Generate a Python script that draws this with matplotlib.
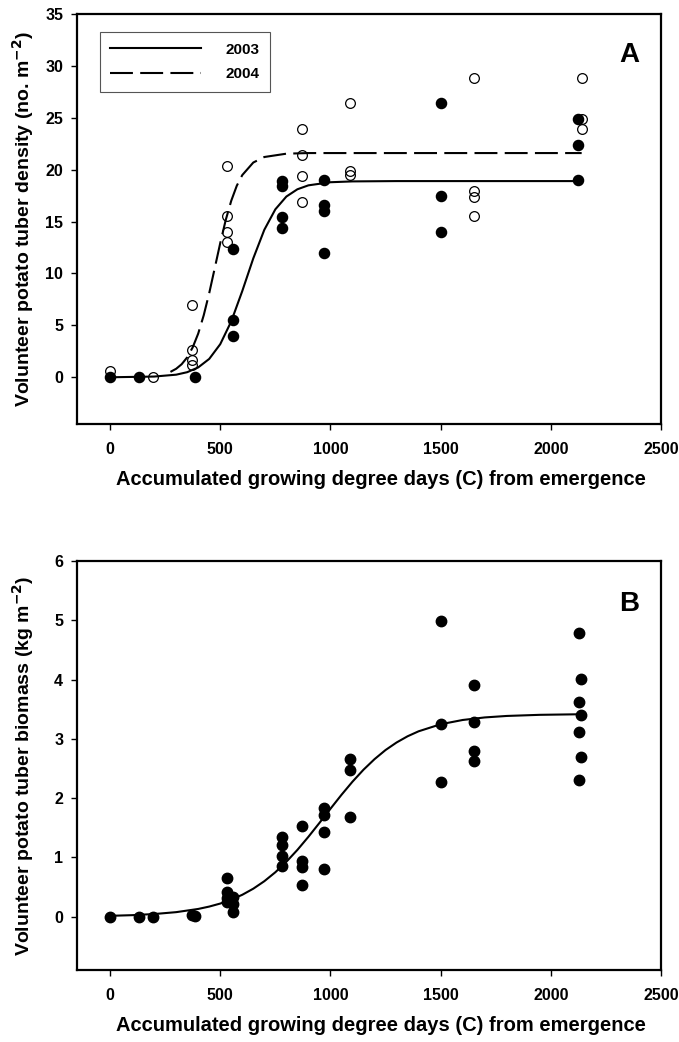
import matplotlib
matplotlib.use("Agg")
import matplotlib.pyplot as plt

plt.rcParams['font.family'] = ['Liberation Sans', 'DejaVu Sans']
plt.rcParams['font.weight'] = 'bold'

# Panel A: tuber density, 2003 (filled) and 2004 (open)
gdd_03 = [0, 130, 385, 560, 560, 560, 780, 780, 780, 780, 973, 973, 973, 973,
          1500, 1500, 1500, 2125, 2125, 2125]
dens_03 = [0, 0, 0, 12.4, 5.5, 4.0, 18.9, 18.4, 15.4, 14.4, 19.0, 16.6, 16.0, 12.0,
           26.4, 17.5, 14.0, 24.9, 22.4, 19.0]

gdd_04 = [0, 194, 373, 373, 373, 373, 532, 532, 532, 532, 871, 871, 871, 871,
          1089, 1089, 1089, 1650, 1650, 1650, 1650, 2140, 2140, 2140]
dens_04 = [0.6, 0.0, 7.0, 2.6, 1.7, 1.2, 20.4, 15.5, 14.0, 13.0, 23.9, 21.4, 19.4, 16.9,
           26.4, 19.9, 19.5, 28.8, 17.9, 17.4, 15.5, 28.8, 24.9, 23.9]

# fitted curves
fit03_x = [0, 200, 300, 350, 400, 450, 500, 550, 600, 650, 700, 750, 800, 850,
           900, 1000, 1100, 1300, 2130]
fit03_y = [0.0, 0.07, 0.25, 0.49, 0.95, 1.77, 3.19, 5.39, 8.31, 11.46, 14.21, 16.18,
           17.41, 18.11, 18.49, 18.79, 18.87, 18.9, 18.9]

fit04_x = [274, 300, 325, 350, 375, 400, 425, 450, 475, 500, 525, 550, 575, 600,
           650, 700, 800, 900, 2140]
fit04_y = [0.52, 0.82, 1.26, 1.92, 2.88, 4.21, 5.97, 8.11, 10.51, 12.93, 15.16, 17.01,
           18.45, 19.48, 20.69, 21.22, 21.54, 21.6, 21.6]

# Panel B: tuber biomass
gdd_b = [0, 130, 194, 373, 385, 532, 532, 532, 532, 560, 560, 560,
         780, 780, 780, 780, 871, 871, 871, 871, 973, 973, 973, 973,
         1089, 1089, 1089, 1500, 1500, 1500, 1650, 1650, 1650, 1650,
         2126, 2138, 2126, 2138, 2126, 2138, 2126]
bio_b = [0, 0, 0, 0.03, 0.01, 0.66, 0.42, 0.32, 0.25, 0.33, 0.22, 0.08,
         1.34, 1.21, 1.02, 0.85, 1.53, 0.94, 0.84, 0.53, 1.83, 1.71, 1.43, 0.81,
         2.66, 2.48, 1.68, 4.99, 3.25, 2.27, 3.91, 3.29, 2.80, 2.62,
         4.79, 4.01, 3.62, 3.41, 3.12, 2.69, 2.31]

fitb_x = [0, 100, 200, 300, 400, 450, 500, 550, 600, 650, 700, 750, 800, 850, 900,
          950, 1000, 1050, 1100, 1150, 1200, 1250, 1300, 1350, 1400, 1500, 1600,
          1700, 1800, 1950, 2140]
fitb_y = [0.014, 0.025, 0.044, 0.076, 0.13, 0.17, 0.221, 0.287, 0.369, 0.472, 0.598,
          0.749, 0.926, 1.126, 1.347, 1.581, 1.82, 2.055, 2.277, 2.479, 2.657, 2.811,
          2.938, 3.043, 3.127, 3.246, 3.318, 3.361, 3.386, 3.405, 3.415]

xticks = [0, 500, 1000, 1500, 2000, 2500]
xlab = "Accumulated growing degree days (C) from emergence"

fig = plt.figure(figsize=(6.79, 10.42), dpi=100)
axA = fig.add_axes([0.1134, 0.5931, 0.8601, 0.3935])
axB = fig.add_axes([0.1134, 0.0691, 0.8601, 0.3925])


def style(ax, yticks):
    for s in ax.spines.values():
        s.set_linewidth(1.6)
    ax.set_xlim(-150, 2500)
    ax.set_xticks(xticks)
    ax.set_yticks(yticks)
    ax.tick_params(direction='out', length=4, width=1, pad=6, labelsize=11.5)
    ax.tick_params(axis='x', pad=9)
    for t in ax.get_xticklabels() + ax.get_yticklabels():
        t.set_fontweight('bold')
    ax.set_xlabel(xlab, fontsize=14.5, fontweight='bold')
    ax.xaxis.set_label_coords(0.52, -0.112)
    ax.yaxis.set_label_coords(-0.07, 0.5)


# Panel A
axA.plot(fit03_x, fit03_y, color='black', lw=1.5, label='2003', zorder=2)
axA.plot(fit04_x, fit04_y, color='black', lw=1.5, dashes=(11, 3.5), label='2004', zorder=2)
axA.plot(gdd_04, dens_04, 'o', ms=7, mfc='none', mec='black', mew=0.9, zorder=3)
axA.plot(gdd_03, dens_03, 'o', ms=7.3, mfc='black', mec='black', zorder=4)
axA.set_ylim(-4.5, 35)
style(axA, range(0, 36, 5))
axA.set_ylabel("Volunteer potato tuber density (no. m$^{\\mathbf{-2}}$)",
               fontsize=14, fontweight='bold')
axA.text(0.945, 0.9, "A", transform=axA.transAxes, fontsize=20, fontweight='bold',
         ha='center', va='center')
leg = axA.legend(loc='upper left', bbox_to_anchor=(0.039, 0.956), borderaxespad=0,
                 handlelength=5.9, handletextpad=1.6, labelspacing=0.7,
                 fancybox=False, framealpha=1, edgecolor='#555555',
                 prop={'weight': 'bold', 'size': 11}, borderpad=0.7)
leg.get_frame().set_linewidth(0.8)

# Panel B
axB.plot(fitb_x, fitb_y, color='black', lw=1.5, zorder=2)
axB.plot(gdd_b, bio_b, 'o', ms=7.5, mfc='black', mec='black', zorder=3)
axB.set_ylim(-0.9, 6)
style(axB, range(0, 7))
axB.set_ylabel("Volunteer potato tuber biomass (kg m$^{\\mathbf{-2}}$)",
               fontsize=14, fontweight='bold')
axB.text(0.945, 0.895, "B", transform=axB.transAxes, fontsize=20, fontweight='bold',
         ha='center', va='center')

fig.savefig("out.png", dpi=100)
